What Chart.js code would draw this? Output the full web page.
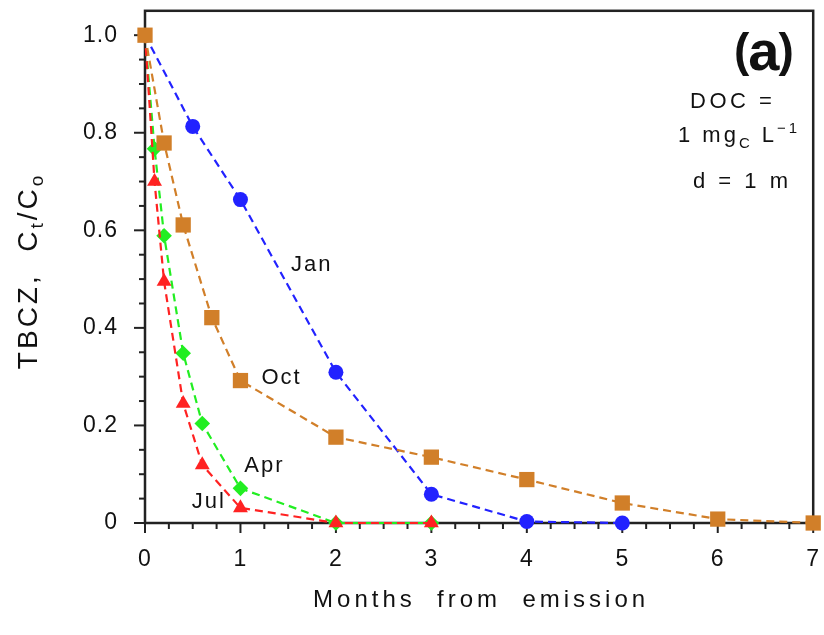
<!DOCTYPE html>
<html><head><meta charset="utf-8">
<script src="https://cdn.jsdelivr.net/npm/chart.js@4/dist/chart.umd.min.js"></script>
<style>html,body{margin:0;padding:0;background:#fff;} canvas{display:block;}</style>
</head><body>
<canvas id="c" width="824" height="635"></canvas>
<script>
// ---- data ----
const janX = [0, 0.5, 1, 2, 3, 4, 5];
const janY = [1.0, 0.813, 0.663, 0.309, 0.059, 0.003, 0.0];
const octX = [0, 0.2, 0.4, 0.7, 1, 2, 3, 4, 5, 6, 7];
const octY = [1.0, 0.779, 0.611, 0.421, 0.292, 0.176, 0.135, 0.089, 0.041, 0.008, 0.0];
const aprX = [0, 0.1, 0.2, 0.4, 0.6, 1, 2, 3];
const aprY = [1.0, 0.767, 0.589, 0.348, 0.204, 0.071, 0.0, 0.0];
const julX = [0, 0.1, 0.2, 0.4, 0.6, 1, 2, 3];
const julY = [1.0, 0.70, 0.495, 0.245, 0.119, 0.031, 0.0, 0.0];

const xTickValues = [0, 1, 2, 3, 4, 5, 6, 7];
const xTickLabels = ['0', '1', '2', '3', '4', '5', '6', '7'];
const yTickValues = [0, 0.2, 0.4, 0.6, 0.8, 1.0];
const yTickLabels = ['0', '0.2', '0.4', '0.6', '0.8', '1.0'];

const seriesNames = ['Jan', 'Oct', 'Apr', 'Jul'];
const seriesLabelX = [1.53, 1.22, 1.04, 0.49];
const seriesLabelY = [0.53, 0.297, 0.117, 0.043];

const xTitle = 'Months  from  emission';
const yTitleMain = ['TBCZ,  C', '/C'];
const yTitleSubs = ['t', 'o'];
const panelTag = ['(', 'a', ')'];
const noteLine1 = 'DOC =';
const noteLine2 = ['1 mg', 'C', ' L', '\u22121'];
const noteLine3 = 'd = 1 m';

const FONT = "'Liberation Sans', Arial, sans-serif";
const TXT = '#111';

function pts(xs, ys) { return xs.map((x, i) => ({ x: x, y: ys[i] })); }

function hideFirst(r) { return (c) => c.dataIndex === 0 ? 0 : r; }

function drawRuns(ctx, runs, x, y, align, spacing) {
  ctx.letterSpacing = spacing + 'px';
  let total = 0;
  runs.forEach(r => { ctx.font = (r.bold ? 'bold ' : '') + r.s + 'px ' + FONT; r.w = ctx.measureText(r.t).width; total += r.w; });
  let cx = align === 'center' ? x - total / 2 : x;
  ctx.textAlign = 'left';
  ctx.textBaseline = 'alphabetic';
  runs.forEach(r => {
    ctx.font = (r.bold ? 'bold ' : '') + r.s + 'px ' + FONT;
    ctx.fillText(r.t, cx, y + (r.dy || 0));
    cx += r.w;
  });
}

const framePlugin = {
  id: 'frame',
  beforeDraw(chart) { chart.ctx.letterSpacing = '1px'; },
  beforeDatasetsDraw(chart) {
    const { ctx, chartArea: a, scales: { x, y } } = chart;
    ctx.save();
    ctx.strokeStyle = '#222';
    ctx.setLineDash([]);
    ctx.lineWidth = 2.5;
    ctx.strokeRect(a.left, a.top, a.right - a.left, a.bottom - a.top);
    ctx.lineWidth = 2;
    for (let i = 0; i <= 28; i++) {
      const v = i * 0.25;
      const px = x.getPixelForValue(v);
      const len = (i % 4 === 0) ? 10 : 6;
      ctx.beginPath(); ctx.moveTo(px, a.bottom); ctx.lineTo(px, a.bottom + len); ctx.stroke();
    }
    for (let i = 0; i <= 20; i++) {
      const v = i * 0.05;
      const py = y.getPixelForValue(v);
      const len = (i % 4 === 0) ? 11 : 6;
      ctx.beginPath(); ctx.moveTo(a.left, py); ctx.lineTo(a.left - len, py); ctx.stroke();
    }
    ctx.restore();
  },
  afterDraw(chart) {
    const { ctx, chartArea: a, scales: { x, y } } = chart;
    ctx.save();
    ctx.fillStyle = TXT;
    // series labels
    ctx.letterSpacing = '2px';
    ctx.font = '22px ' + FONT;
    ctx.textAlign = 'left';
    ctx.textBaseline = 'middle';
    seriesNames.forEach((n, i) => {
      ctx.fillText(n, x.getPixelForValue(seriesLabelX[i]), y.getPixelForValue(seriesLabelY[i]));
    });
    // x title
    drawRuns(ctx, [{ t: xTitle, s: 24 }], (a.left + a.right) / 2 + 2, 607, 'center', 4);
    // y title
    ctx.save();
    ctx.translate(37, (a.top + a.bottom) / 2 + 4);
    ctx.rotate(-Math.PI / 2);
    drawRuns(ctx, [
      { t: yTitleMain[0], s: 28 }, { t: yTitleSubs[0], s: 19, dy: 6 },
      { t: yTitleMain[1], s: 28 }, { t: yTitleSubs[1], s: 19, dy: 6 }
    ], 0, 0, 'center', 3);
    ctx.restore();
    // panel tag
    ctx.letterSpacing = '0px';
    ctx.textAlign = 'left';
    ctx.font = 'bold 46px ' + FONT;
    const wp = ctx.measureText('(').width;
    ctx.font = 'bold 56px ' + FONT;
    const wa = ctx.measureText('a').width;
    let px = 734;
    ctx.font = 'bold 46px ' + FONT;
    ctx.fillText(panelTag[0], px, 66);
    ctx.font = 'bold 56px ' + FONT;
    ctx.fillText(panelTag[1], px + wp - 1, 70);
    ctx.font = 'bold 46px ' + FONT;
    ctx.fillText(panelTag[2], px + wp + wa - 2, 66);
    // note
    drawRuns(ctx, [{ t: noteLine1, s: 22 }], 690, 108, 'left', 3.5);
    drawRuns(ctx, [{ t: noteLine2[0], s: 22 }, { t: noteLine2[1], s: 15, dy: 6 }, { t: noteLine2[2], s: 22 }, { t: noteLine2[3], s: 15, dy: -9 }], 678, 142, 'left', 3);
    drawRuns(ctx, [{ t: noteLine3, s: 22 }], 693, 188, 'left', 3.5);
    ctx.restore();
  }
};

const common = { showLine: true, borderWidth: 2.2, tension: 0, clip: false, pointBorderWidth: 0 };

new Chart(document.getElementById('c'), {
  type: 'scatter',
  data: {
    datasets: [
      Object.assign({ label: 'Oct', data: pts(octX, octY), borderColor: '#d17f29', backgroundColor: '#d17f29', borderDash: [8, 5], pointStyle: 'rect', pointRadius: 10.8, order: 0 }, common),
      Object.assign({ label: 'Jul', data: pts(julX, julY), borderColor: '#ff2222', backgroundColor: '#ff2222', borderDash: [8, 5], pointStyle: 'triangle', pointRadius: hideFirst(8.6), order: 1 }, common),
      Object.assign({ label: 'Apr', data: pts(aprX, aprY), borderColor: '#22ee22', backgroundColor: '#22ee22', borderDash: [8, 5], pointStyle: 'rectRot', pointRadius: hideFirst(7.8), order: 2 }, common),
      Object.assign({ label: 'Jan', data: pts(janX, janY), borderColor: '#2222ff', backgroundColor: '#2222ff', borderDash: [8, 5], pointStyle: 'circle', pointRadius: hideFirst(7.5), order: 3 }, common)
    ]
  },
  options: {
    responsive: false,
    animation: false,
    devicePixelRatio: 1,
    events: [],
    layout: { padding: { left: 0, right: 8, top: 10, bottom: 0 } },
    plugins: { legend: { display: false }, tooltip: { enabled: false } },
    scales: {
      x: {
        type: 'linear', min: 0, max: 7,
        afterBuildTicks(s) { s.ticks = xTickValues.map(v => ({ value: v })); },
        afterFit(s) { s.height = 112; s.paddingLeft = 0; s.paddingRight = 0; s.paddingTop = 0; s.paddingBottom = 0; },
        grid: { display: false, drawTicks: false },
        border: { display: false },
        ticks: { padding: 23, color: TXT, font: { size: 23, family: FONT }, maxRotation: 0, autoSkip: false,
          callback: (v) => xTickLabels[xTickValues.indexOf(v)] }
      },
      y: {
        type: 'linear', min: 0, max: 1.05,
        afterBuildTicks(s) { s.ticks = yTickValues.map(v => ({ value: v })); },
        afterFit(s) { s.width = 145; s.paddingLeft = 0; s.paddingRight = 0; s.paddingTop = 0; s.paddingBottom = 0; },
        grid: { display: false, drawTicks: false },
        border: { display: false },
        ticks: { padding: 27, color: TXT, font: { size: 23, family: FONT }, autoSkip: false,
          callback: (v) => yTickLabels[yTickValues.indexOf(v)] }
      }
    }
  },
  plugins: [framePlugin]
});
</script>
</body></html>
